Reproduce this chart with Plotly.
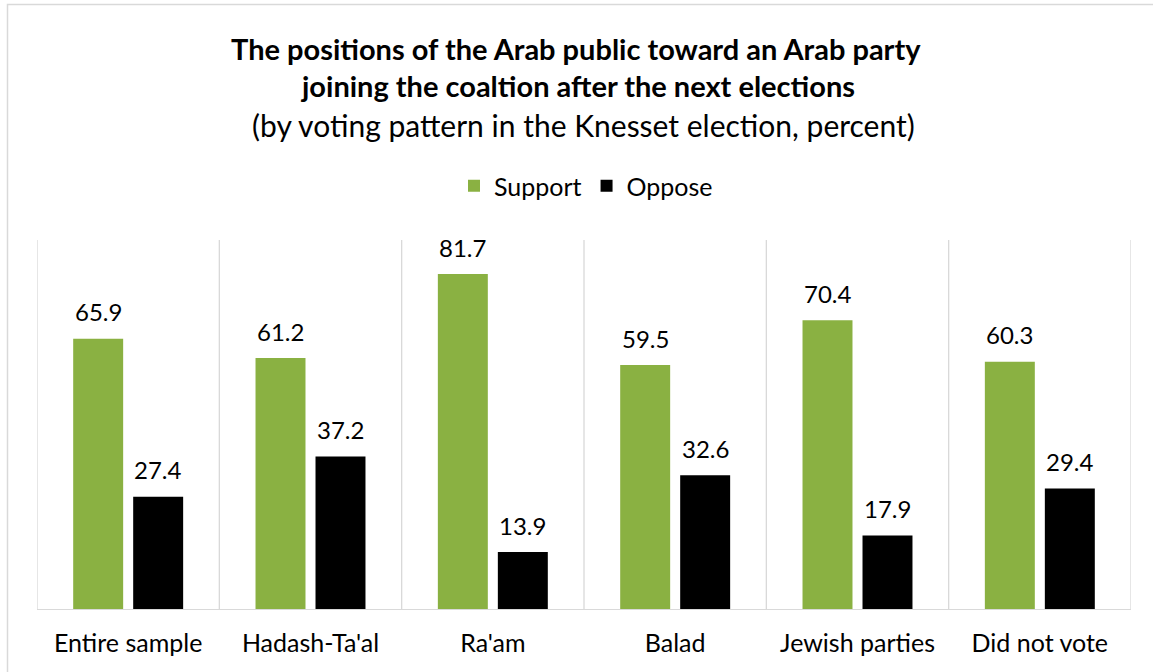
import plotly.graph_objects as go

categories = ["Entire sample", "Hadash-Ta'al", "Ra'am", "Balad", "Jewish parties", "Did not vote"]
support = [65.9, 61.2, 81.7, 59.5, 70.4, 60.3]
oppose = [27.4, 37.2, 13.9, 32.6, 17.9, 29.4]

title_line1 = "The positions of the Arab public toward an Arab party"
title_line2 = "joining the coaltion after the next elections"
subtitle = "(by voting pattern in the Knesset election, percent)"

FONT = "Lato"
W, H = 1153, 672
# plot area in page pixels: x 37..1131, y 240..609
L, R, T, B = 37, 1153 - 1131, 240, 672 - 609
PW, PH = W - L - R, H - T - B

def px_y(y):
    return (H - B - y) / PH

def px_x(x):
    return (x - L) / PW

fig = go.Figure()
fig.add_trace(go.Bar(
    x=categories, y=support, name="Support",
    marker=dict(color="#8AB142", line=dict(width=0)),
))
fig.add_trace(go.Bar(
    x=categories, y=oppose, name="Oppose",
    marker=dict(color="#000000", line=dict(width=0)),
))

annotations = []
for cat, s, o in zip(categories, support, oppose):
    for val, dx in ((s, -30), (o, 30)):
        annotations.append(dict(
            x=cat, y=val, xref="x", yref="y", text=f"{val:.1f}", showarrow=False,
            xshift=dx, yshift=27, xanchor="center", yanchor="middle",
            font=dict(family=FONT, size=24, color="#000000")))

shapes = []
for i in range(len(categories) + 1):
    shapes.append(dict(type="line", xref="x", yref="paper", x0=i - 0.5, x1=i - 0.5,
                       y0=0, y1=1, line=dict(color="#D9D9D9", width=1.3), layer="below"))
# outer chart border
shapes.append(dict(type="rect", xref="paper", yref="paper",
                   x0=px_x(7.5), x1=px_x(1170), y0=px_y(690), y1=px_y(4.5),
                   line=dict(color="#D9D9D9", width=1.5), layer="below"))

annotations += [
    dict(text=f"<b>{title_line1}</b>", x=px_x(576), y=px_y(48), xref="paper", yref="paper",
         showarrow=False, font=dict(family=FONT, size=29, color="#000000"), xanchor="center", yanchor="middle"),
    dict(text=f"<b>{title_line2}</b>", x=px_x(577), y=px_y(86), xref="paper", yref="paper",
         showarrow=False, font=dict(family=FONT, size=29, color="#000000"), xanchor="center", yanchor="middle"),
    dict(text=subtitle, x=px_x(583), y=px_y(125), xref="paper", yref="paper",
         showarrow=False, font=dict(family=FONT, size=30, color="#000000"), xanchor="center", yanchor="middle"),
]

fig.update_layout(
    width=W, height=H,
    margin=dict(l=L, r=R, t=T, b=B),
    paper_bgcolor="white", plot_bgcolor="white",
    barmode="group", bargap=0.342, bargroupgap=0.167,
    showlegend=True,
    legend=dict(orientation="h", x=px_x(586), y=px_y(186), xanchor="center", yanchor="middle",
                font=dict(family=FONT, size=25, color="#000000"), itemwidth=30,
                traceorder="normal", itemsizing="constant"),
    xaxis=dict(showgrid=False, showline=True, linecolor="#D9D9D9", linewidth=1.3,
               ticks="", ticklabelstandoff=12, tickfont=dict(family=FONT, size=25, color="#000000"),
               range=[-0.5, len(categories) - 0.5], fixedrange=True),
    yaxis=dict(range=[0, 90], visible=False, showgrid=False, zeroline=False, fixedrange=True),
    shapes=shapes,
    annotations=annotations,
    font=dict(family=FONT),
)

fig.write_html("out.html", config={"displayModeBar": False},
               post_script="document.body.style.margin='0px';")
